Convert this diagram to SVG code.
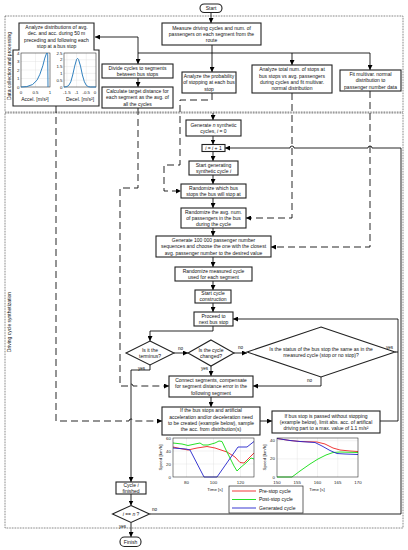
<svg xmlns="http://www.w3.org/2000/svg" width="408" height="550" viewBox="0 0 408 550">
<defs>
<marker id="ah" markerUnits="userSpaceOnUse" markerWidth="5" markerHeight="5" viewBox="0 0 6 6" refX="6" refY="3" orient="auto"><path d="M0,0 L6,3 L0,6 z" fill="#000"/></marker>
<style>
.bx{fill:#fff;stroke:#222;stroke-width:1.1}
.t{font-family:"Liberation Sans",Arial,sans-serif;font-size:5px;fill:#111;text-anchor:middle}
.s{font-family:"Liberation Sans",Arial,sans-serif;font-size:4.6px;fill:#111}
.ln{fill:none;stroke:#000;stroke-width:0.85}
.da{fill:none;stroke:#000;stroke-width:0.85;stroke-dasharray:7 4}
.sec{fill:none;stroke:#444;stroke-width:0.8;stroke-dasharray:0.8 0.8}
.ax{fill:none;stroke:#222;stroke-width:0.55}
.gr{fill:none;stroke:#ddd;stroke-width:0.4}
.tk{font-family:"Liberation Sans",Arial,sans-serif;font-size:4.4px;fill:#222}
</style>
</defs>
<rect width="408" height="550" fill="#fff"/>
<g id="sections">
<rect class="sec" x="5" y="16" width="398" height="96"/>
<rect class="sec" x="5" y="113" width="398" height="415"/>
<text class="t" transform="translate(11,66) rotate(-90)">Data collection and processing</text>
<text class="t" transform="translate(11,322) rotate(-90)">Driving cycle synthetization</text>
</g>
<g id="connectors">
<path class="ln" d="M211,12.5 V23" marker-end="url(#ah)"/>
<path class="ln" d="M212,45 V72" marker-end="url(#ah)"/>
<path class="ln" d="M212,53 H138 V37 H95" marker-end="url(#ah)"/>
<path class="ln" d="M138,53 V64" marker-end="url(#ah)"/>
<path class="ln" d="M212,53 H292 V65" marker-end="url(#ah)"/>
<path class="ln" d="M292,53 H370 V70" marker-end="url(#ah)"/>
<path class="ln" d="M138,78 V87" marker-end="url(#ah)"/>
<path class="ln" d="M213,113 V120" marker-end="url(#ah)"/>
<path class="ln" d="M213,136 V144.5" marker-end="url(#ah)"/>
<path class="ln" d="M213,151.5 V161" marker-end="url(#ah)"/>
<path class="ln" d="M213,175 V184" marker-end="url(#ah)"/>
<path class="ln" d="M213,198 V208" marker-end="url(#ah)"/>
<path class="ln" d="M213,228 V236" marker-end="url(#ah)"/>
<path class="ln" d="M213,257 V267" marker-end="url(#ah)"/>
<path class="ln" d="M213,281 V290" marker-end="url(#ah)"/>
<path class="ln" d="M213,303 V312" marker-end="url(#ah)"/>
<path class="ln" d="M213,326 V331 H150 V341" marker-end="url(#ah)"/>
<path class="ln" d="M174,353 H188" marker-end="url(#ah)"/>
<path class="ln" d="M234,353 H247" marker-end="url(#ah)"/>
<path class="ln" d="M211,366 V376" marker-end="url(#ah)"/>
<path class="ln" d="M321,377 V386 H253" marker-end="url(#ah)"/>
<path class="ln" d="M395,352 H398"/>
<path class="ln" d="M380,421 H398 V319 H233" marker-end="url(#ah)"/>
<path class="ln" d="M211,397 V407" marker-end="url(#ah)"/>
<path class="ln" d="M260,421 H272" marker-end="url(#ah)"/>
<path class="ln" d="M150,365 V370 H131 V482" marker-end="url(#ah)"/>
<path class="ln" d="M131,494 V505.5" marker-end="url(#ah)"/>
<path class="ln" d="M131,522.5 V537" marker-end="url(#ah)"/>
<path class="ln" d="M149.5,514 H401 V148 H372 A2,2 0 0 0 368,148 H294 A2,2 0 0 0 290,148 H225" marker-end="url(#ah)"/>
<path class="da" d="M56,106 V421 H129 A2,2 0 0 1 133,421 H162" marker-end="url(#ah)"/>
<path class="da" d="M138,108 V188 H120 V386 H129 A2,2 0 0 1 133,386 H169" marker-end="url(#ah)"/>
<path class="da" d="M212,93 V100 H180 V165 H164 V191 H181" marker-end="url(#ah)"/>
<path class="da" d="M292,93 V218 H246" marker-end="url(#ah)"/>
<path class="da" d="M370,91 V247 H271" marker-end="url(#ah)"/>
<text class="s" x="178" y="350">no</text>
<text class="s" x="138" y="370">yes</text>
<text class="s" x="238" y="349">no</text>
<text class="s" x="201" y="370">yes</text>
<text class="s" x="386" y="349">yes</text>
<text class="s" x="307" y="382">no</text>
<text class="s" x="152" y="511">no</text>
<text class="s" x="119" y="528">yes</text>
</g>
<g id="start"><rect class="bx" x="200" y="4" width="22" height="8.5" rx="4.2"/><text class="t" x="211" y="9.9">Start</text></g>
<g id="measure"><rect class="bx" x="162" y="23" width="99" height="22"/><text class="t" x="211.5" y="29.5">Measure driving cycles and num. of</text><text class="t" x="211.5" y="35.8">passengers on each segment from the</text><text class="t" x="211.5" y="42.1">route</text></g>
<g id="analyze-dist">
<path class="bx" d="M19,23 H94 V50 H99 V106 H13 V50 H19 Z"/>
<text class="t" x="56.5" y="28.5">Analyze distributions of avg.</text>
<text class="t" x="56.5" y="35">dec. and acc. during 50 m</text>
<text class="t" x="56.5" y="41.5">preceding and following each</text>
<text class="t" x="56.5" y="48">stop at a bus stop</text>
<path class="gr" d="M35.5,53 V87 M21,78.5 H50 M21,70 H50 M21,61.5 H50"/>
<rect class="ax" x="21" y="53" width="29" height="34"/>
<path fill="none" stroke="#1a73b8" stroke-width="0.9" d="M21,87 L26.8,86.6 L32.6,84.5 L37,80.2 L39.9,74.3 L42.8,65.8 L44.8,58.1 L46.5,53.4 L47.1,53 L47.7,54.7 L48,87"/>
<g class="tk" text-anchor="end"><text x="19.5" y="54.5">4</text><text x="19.5" y="63">3</text><text x="19.5" y="71.5">2</text><text x="19.5" y="80">1</text><text x="19.5" y="88.5">0</text></g>
<g class="tk" text-anchor="middle"><text x="21" y="93.5">0</text><text x="35.5" y="93.5">0.5</text><text x="50" y="93.5">1</text></g>
<text class="t" x="35" y="101">Accel. [m/s²]</text>
<path class="gr" d="M66.9,53 V87 M76.6,53 V87 M86.3,53 V87 M64,59.8 H96 M64,66.6 H96 M64,73.4 H96 M64,80.2 H96"/>
<rect class="ax" x="64" y="53" width="32" height="34"/>
<path fill="none" stroke="#1a73b8" stroke-width="0.9" d="M64,87 L66.9,86.6 L68.8,85.3 L70.8,81.8 L72.7,75 L74.7,66.1 L76.6,59.4 L77.6,58.4 L78.5,59.4 L80.5,66.1 L82.4,75 L84.4,81.8 L86.3,85.3 L88.2,86.6 L90.2,87 L96,87"/>
<g class="tk" text-anchor="end"><text x="62.5" y="54.5">2.5</text><text x="62.5" y="61.3">2</text><text x="62.5" y="68.1">1.5</text><text x="62.5" y="74.9">1</text><text x="62.5" y="81.7">0.5</text><text x="62.5" y="88.5">0</text></g>
<g class="tk" text-anchor="middle"><text x="66.9" y="93.5">-1.5</text><text x="76.6" y="93.5">-1</text><text x="86.3" y="93.5">-0.5</text><text x="95" y="93.5">0</text></g>
<text class="t" x="80" y="101">Decel. [m/s²]</text>
</g>
<g id="divide"><rect class="bx" x="102" y="64" width="71" height="14"/><text class="t" x="137.5" y="69.6">Divide cycles to segments</text><text class="t" x="137.5" y="75.9">between bus stops</text></g>
<g id="calculate"><rect class="bx" x="102" y="87" width="71" height="21"/><text class="t" x="137.5" y="93">Calculate target distance for</text><text class="t" x="137.5" y="99.3">each segment as the avg. of</text><text class="t" x="137.5" y="105.6">all the cycles</text></g>
<g id="analyze-prob"><rect class="bx" x="182" y="72" width="54" height="21"/><text class="t" x="209" y="78">Analyze the probability</text><text class="t" x="209" y="84.3">of stopping at each bus</text><text class="t" x="209" y="90.6">stop</text></g>
<g id="analyze-total"><rect class="bx" x="252" y="65" width="80" height="28"/><text class="t" x="292" y="71.4">Analyze total num. of stops at</text><text class="t" x="292" y="77.7">bus stops vs avg. passengers</text><text class="t" x="292" y="84">during cycles and fit multivar.</text><text class="t" x="292" y="90.3">normal distribution</text></g>
<g id="fit"><rect class="bx" x="340" y="70" width="61" height="21"/><text class="t" x="370.5" y="76">Fit multivar. normal</text><text class="t" x="370.5" y="82.3">distribution to</text><text class="t" x="370.5" y="88.6">passenger number data</text></g>
<g id="gen-n"><rect class="bx" x="186" y="120" width="55" height="16"/><text class="t" x="213.5" y="126.6">Generate <tspan font-style="italic">n</tspan> synthetic</text><text class="t" x="213.5" y="132.9">cycles, <tspan font-style="italic">i</tspan> = 0</text></g>
<g id="inc"><rect class="bx" x="202" y="144.5" width="23" height="7"/><text class="t" x="213.5" y="149.8"><tspan font-style="italic">i</tspan> = <tspan font-style="italic">i</tspan> + 1</text></g>
<g id="start-gen"><rect class="bx" x="189" y="161" width="49" height="14"/><text class="t" x="213.5" y="166.6">Start generating</text><text class="t" x="213.5" y="172.9">synthetic cycle <tspan font-style="italic">i</tspan></text></g>
<g id="rand-stops"><rect class="bx" x="181" y="184" width="65" height="14"/><text class="t" x="213.5" y="189.6">Randomize which bus</text><text class="t" x="213.5" y="195.9">stops the bus will stop at</text></g>
<g id="rand-avg"><rect class="bx" x="181" y="208" width="65" height="20"/><text class="t" x="213.5" y="213.5">Randomize the avg. num.</text><text class="t" x="213.5" y="219.8">of passengers in the bus</text><text class="t" x="213.5" y="226.1">during the cycle</text></g>
<g id="gen-100k"><rect class="bx" x="156" y="236" width="115" height="21"/><text class="t" x="213.5" y="242">Generate 100 000 passenger number</text><text class="t" x="213.5" y="248.3">sequences and choose the one with the closest</text><text class="t" x="213.5" y="254.6">avg. passenger number to the desired value</text></g>
<g id="rand-meas"><rect class="bx" x="175" y="267" width="77" height="14"/><text class="t" x="213.5" y="272.6">Randomize measured cycle</text><text class="t" x="213.5" y="278.9">used for each segment</text></g>
<g id="start-cycle"><rect class="bx" x="195" y="290" width="36" height="13"/><text class="t" x="213" y="295.1">Start cycle</text><text class="t" x="213" y="301.4">construction</text></g>
<g id="proceed"><rect class="bx" x="194" y="312" width="39" height="14"/><text class="t" x="213.5" y="317.6">Proceed to</text><text class="t" x="213.5" y="323.9">next bus stop</text></g>
<g id="terminus"><path class="bx" d="M150,341 L174,353 L150,365 L126,353 Z"/><text class="t" x="150" y="351.6">Is it the</text><text class="t" x="150" y="357.9">terminus?</text></g>
<g id="changed"><path class="bx" d="M211,340 L234,353 L211,366 L188,353 Z"/><text class="t" x="211" y="351.6">Is the cycle</text><text class="t" x="211" y="357.9">changed?</text></g>
<g id="status"><path class="bx" d="M321,327 L395,352 L321,377 L247,352 Z"/><text class="t" x="321" y="350.6">Is the status of the bus stop the same as in the</text><text class="t" x="321" y="356.9">measured cycle (stop or no stop)?</text></g>
<g id="connect"><rect class="bx" x="169" y="376" width="84" height="21"/><text class="t" x="211" y="382">Connect segments, compensate</text><text class="t" x="211" y="388.3">for segment distance error in the</text><text class="t" x="211" y="394.6">following segment</text></g>
<g id="if-stops"><rect class="bx" x="162" y="407" width="98" height="28"/><text class="t" x="211" y="412.4">If the bus stops and artificial</text><text class="t" x="211" y="418.7">acceleration and/or deceleration need</text><text class="t" x="211" y="425">to be created (example below), sample</text><text class="t" x="211" y="431.3">the acc. from distribution(s)</text></g>
<g id="if-passed"><rect class="bx" x="272" y="411" width="108" height="22"/><text class="t" x="326" y="417.5">If bus stop is passed without stopping</text><text class="t" x="326" y="423.8">(example below), limit abs. acc. of artifical</text><text class="t" x="326" y="430.1">driving part to a max. value of 1.1 m/s²</text></g>
<g id="chart1">
<rect x="173" y="438" width="81" height="39" fill="#fff"/>
<path class="gr" d="M186.5,438 V477 M213.5,438 V477 M240.5,438 V477 M173,464 H254 M173,451 H254"/>
<path fill="none" stroke="#e22" stroke-width="0.9" d="M173,447 L180,448.5 L188,450 L197,448 L207,446.5 L215,448 L227,452 L235,457 L240,462.5 L244,463 L250,457 L254,453"/>
<path fill="none" stroke="#1d1" stroke-width="0.9" d="M173,443 L182,444 L188,445.5 L195,444 L200,443 L203,445 L208,445 L215,443 L219,441 L222,441.5 L226,450 L230,458 L234,466 L237,471 L240,468 L247,462 L251,458 L254,459"/>
<path fill="none" stroke="#22c" stroke-width="0.9" d="M173,448 L186,449 L190,450 L204,477 L217,477 L238,447 L247,447 L254,441.5"/>
<rect class="ax" x="173" y="438" width="81" height="39"/>
<g class="tk" text-anchor="end"><text x="171" y="439.5">60</text><text x="171" y="452.5">40</text><text x="171" y="465.5">20</text><text x="171" y="478.5">0</text></g>
<g class="tk" text-anchor="middle"><text x="186.5" y="484">80</text><text x="213.5" y="484">100</text><text x="240.5" y="484">120</text></g>
<text class="tk" x="215" y="490.5" text-anchor="middle">Time [s]</text>
<text class="tk" text-anchor="middle" transform="translate(162,457.5) rotate(-90)">Speed [km/h]</text>
</g>
<g id="chart2">
<rect x="277" y="438" width="81" height="39" fill="#fff"/>
<path class="gr" d="M297.25,438 V477 M317.5,438 V477 M337.75,438 V477 M277,458.9 H358 M277,440.7 H358"/>
<path fill="none" stroke="#e22" stroke-width="0.9" d="M277,438.5 L290,440.5 L300,441.5 L317,442 L325,444 L333,448 L340,450 L350,451 L358,451.5"/>
<path fill="none" stroke="#1d1" stroke-width="0.9" d="M277,477 L292,477 L300,471 L310,464 L318,459 L326,455 L333,452.5 L340,452 L358,452.5"/>
<path fill="none" stroke="#22c" stroke-width="0.9" d="M277,438.5 L290,440.5 L300,441.5 L315,442.5 L322,446 L330,450.5 L337,453.5 L345,454 L358,454.5"/>
<rect class="ax" x="277" y="438" width="81" height="39"/>
<g class="tk" text-anchor="end"><text x="275" y="442.2">40</text><text x="275" y="460.4">20</text><text x="275" y="478.5">0</text></g>
<g class="tk" text-anchor="middle"><text x="277" y="484">150</text><text x="297.25" y="484">155</text><text x="317.5" y="484">160</text><text x="337.75" y="484">165</text><text x="358" y="484">170</text></g>
<text class="tk" x="317" y="490.5" text-anchor="middle">Time [s]</text>
<text class="tk" text-anchor="middle" transform="translate(266,457.5) rotate(-90)">Speed [km/h]</text>
</g>
<g id="legend">
<rect x="229" y="486" width="74" height="27" fill="#fff" stroke="#222" stroke-width="0.7"/>
<path stroke="#e22" stroke-width="0.9" d="M232,491 H256"/>
<path stroke="#1d1" stroke-width="0.9" d="M232,499.5 H256"/>
<path stroke="#22c" stroke-width="0.9" d="M232,508 H256"/>
<text class="t" x="259" y="492.7" text-anchor="start" style="text-anchor:start">Pre-stop cycle</text>
<text class="t" x="259" y="501.2" style="text-anchor:start">Post-stop cycle</text>
<text class="t" x="259" y="509.7" style="text-anchor:start">Generated cycle</text>
</g>
<g id="cycle-finished"><rect class="bx" x="116" y="482" width="30" height="12"/><text class="t" x="131" y="486.6">Cycle <tspan font-style="italic">i</tspan></text><text class="t" x="131" y="492.9">finished</text></g>
<g id="check-n"><path class="bx" d="M131,505.5 L149.5,514 L131,522.5 L112.5,514 Z"/><text class="t" x="131" y="515.8"><tspan font-style="italic">i</tspan> == <tspan font-style="italic">n</tspan> ?</text></g>
<g id="finish"><rect class="bx" x="120" y="537" width="21" height="9.5" rx="4.5"/><text class="t" x="130.5" y="543.6">Finish</text></g>
</svg>
